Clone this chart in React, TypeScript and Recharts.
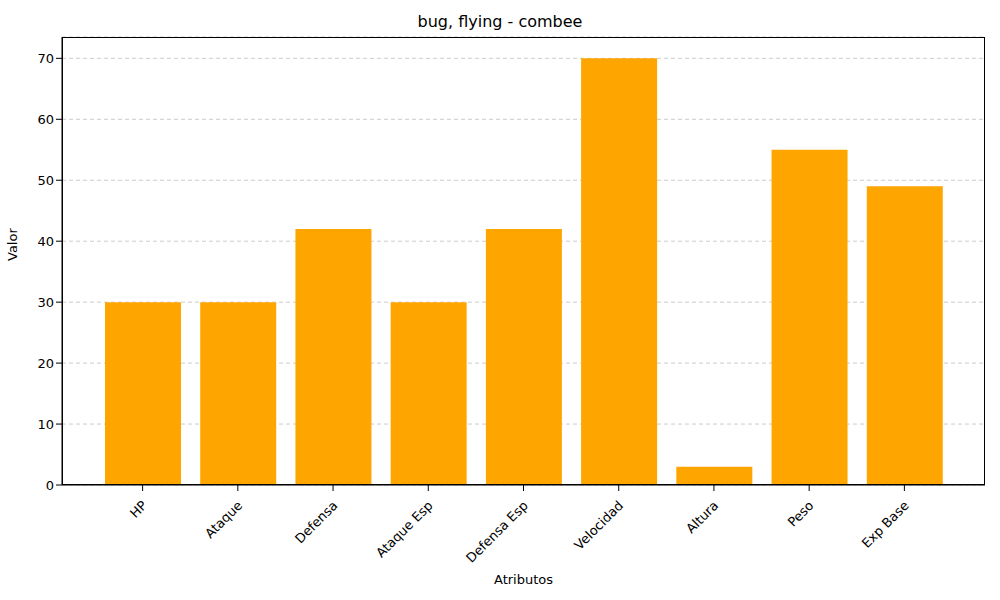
import { BarChart, Bar, XAxis, YAxis, CartesianGrid } from "recharts";

const categories = ["HP", "Ataque", "Defensa", "Ataque Esp", "Defensa Esp", "Velocidad", "Altura", "Peso", "Exp Base"];
const values = [30, 30, 42, 30, 42, 70, 3, 55, 49];
const yTicks = [0, 10, 20, 30, 40, 50, 60, 70];

const data = categories.map((name, i) => ({ name, value: values[i] }));

const font = "DejaVu Sans, sans-serif";

function RotTick(props: any) {
  const { x, y, payload } = props;
  return (
    <g transform={`translate(${x},${y + 8})`}>
      <text
        transform="rotate(-45)"
        textAnchor="end"
        dominantBaseline="middle"
        fontSize={13}
        fontFamily={font}
        fill="#000"
        dy={4}
      >
        {payload.value}
      </text>
    </g>
  );
}

export default function App() {
  return (
    <div style={{ position: "absolute", left: 0, top: 0, width: 1000, height: 600, background: "#fff" }}>
      <div style={{ position: "absolute", top: 12, width: 1000, textAlign: "center", fontFamily: font, fontSize: 16 }}>
        bug, flying - combee
      </div>
      <BarChart
        width={1000}
        height={600}
        data={data}
        margin={{ top: 37, right: 15, bottom: 0, left: 0 }}
        barCategoryGap={0}
      >
        <CartesianGrid vertical={false} strokeDasharray="4 3" stroke="#cccccc" />
        <XAxis
          dataKey="name"
          height={115}
          padding={{ left: 33, right: 33 }}
          tick={<RotTick />}
          tickLine={{ stroke: "#000" }}
          axisLine={{ stroke: "#000" }}
          interval={0}
          label={{ value: "Atributos", position: "insideBottom", offset: 16, fontSize: 13, fontFamily: font, fill: "#000" }}
        />
        <YAxis
          width={62}
          domain={[0, 73.5]}
          ticks={yTicks}
          tick={{ fontSize: 13, fontFamily: font, fill: "#000" }}
          tickLine={{ stroke: "#000" }}
          axisLine={{ stroke: "#000" }}
          label={{ value: "Valor", angle: -90, position: "insideLeft", offset: 12, fontSize: 13, fontFamily: font, fill: "#000" }}
        />
        <Bar dataKey="value" fill="#ffa500" barSize={76} isAnimationActive={false} />
      </BarChart>
      <div
        style={{
          position: "absolute",
          left: 62,
          top: 37,
          width: 923,
          height: 448,
          border: "1px solid #000",
          boxSizing: "border-box",
          pointerEvents: "none",
        }}
      />
    </div>
  );
}
